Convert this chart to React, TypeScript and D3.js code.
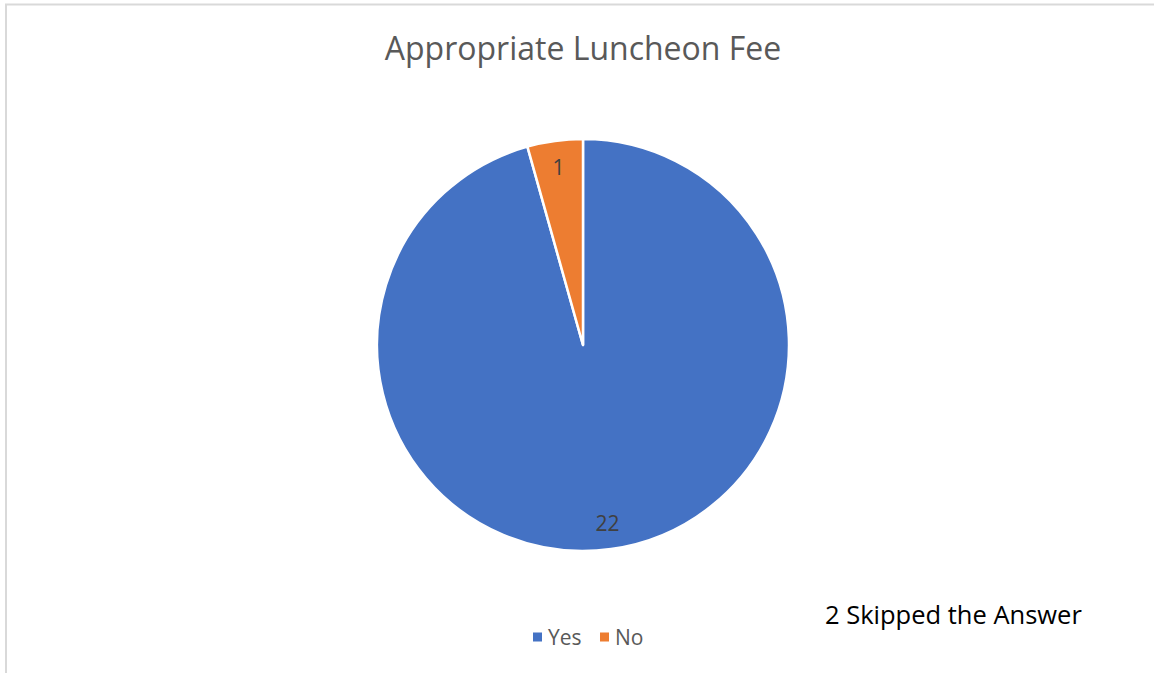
import * as d3 from 'd3'

const categories = ['Yes', 'No']
const counts = [22, 1]
const colors = ['#4472C4', '#ED7D31']
const title = 'Appropriate Luncheon Fee'
const note = '2 Skipped the Answer'

const W = 1154
const H = 673
const font = '"Open Sans", "Noto Sans", sans-serif'

export default function App() {
  const cx = 583
  const cy = 345
  const r = 206

  const pie = d3.pie<number>().sort(null).value((d) => d)
  const arcs = pie(counts)
  const arc = d3.arc<d3.PieArcDatum<number>>().innerRadius(0).outerRadius(r)
  const labelArc = d3.arc<d3.PieArcDatum<number>>().innerRadius(r * 0.87).outerRadius(r * 0.87)

  // legend layout
  const legendX = [533, 600]

  return (
    <svg
      width={W}
      height={H}
      style={{ position: 'absolute', left: 0, top: 0, background: '#fff' }}
    >
      <rect x={6} y={4.5} width={W + 10} height={H + 10} fill="#fff" stroke="#d9d9d9" strokeWidth={2} />
      <text x={cx} y={60} textAnchor="middle" fontFamily={font} fontSize={32} fill="#595959">
        {title}
      </text>
      <g transform={`translate(${cx},${cy})`}>
        {arcs.map((a, i) => (
          <path key={categories[i]} d={arc(a) ?? ''} fill={colors[i]} stroke="#fff" strokeWidth={2.5} strokeLinejoin="round" />
        ))}
        {arcs.map((a, i) => {
          const [lx, ly] = labelArc.centroid(a)
          return (
            <text key={'l' + i} x={lx} y={ly} textAnchor="middle" dominantBaseline="central" fontFamily={font} fontSize={21} fill="#404040">
              {counts[i]}
            </text>
          )
        })}
      </g>
      {categories.map((c, i) => (
        <g key={'lg' + c} transform={`translate(${legendX[i]},637)`}>
          <rect x={0} y={-4.5} width={9} height={9} fill={colors[i]} />
          <text x={15} y={0} dominantBaseline="central" fontFamily={font} fontSize={21} fill="#595959">
            {c}
          </text>
        </g>
      ))}
      <text x={825} y={624} fontFamily={font} fontSize={25.5} fill="#000">
        {note}
      </text>
    </svg>
  )
}
